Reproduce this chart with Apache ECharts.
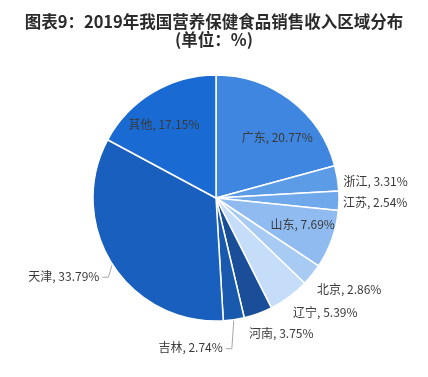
<!DOCTYPE html>
<html><head><meta charset="utf-8">
<script src="https://cdn.jsdelivr.net/npm/echarts@6/dist/echarts.min.js"></script>
<style>html,body{margin:0;padding:0;background:#fff}#c{width:428px;height:377px}</style>
</head><body><div id="c"></div>
<script>
const regions = ['广东','浙江','江苏','山东','北京','辽宁','河南','吉林','天津','其他'];
const shares = [20.77, 3.31, 2.54, 7.69, 2.86, 5.39, 3.75, 2.74, 33.79, 17.15];
const colors = ['#3F86E0','#5C9BE6','#70A9EB','#8FBBF0','#A8CBF4','#C5DDF9','#1A4E98','#1A5AAE','#1960BE','#1A6AD4'];
const labelPos = ['inside','outside','outside','inside','outside','outside','outside','outside','outside','inside'];
const labelShift = [[22,-9],[1,3],[-1,2],[26,5],[0,15],[-1,16],[-14,20],[0,0],[0,0],[-19,-18]];
const guided = {'吉林':[[-2,29],[-8,29]], '天津':[[-4,13],[-10,13]]};

const chart = echarts.init(document.getElementById('c'));
chart.setOption({
  animation:false,
  title:{text:'图表9：2019年我国营养保健食品销售收入区域分布\n(单位：%)',left:'center',top:8,
    textStyle:{fontFamily:'Noto Sans CJK SC',fontSize:16.5,fontWeight:'bold',color:'#2b2b2b',lineHeight:18}},
  series:[{
    type:'pie', radius:123, center:[216,198], startAngle:90, clockwise:true,
    avoidLabelOverlap:false,
    itemStyle:{borderColor:'#fff',borderWidth:1.5},
    label:{formatter:'{b}, {c}%',fontFamily:'Noto Sans CJK SC',fontSize:12,color:'#3a3a3a',distanceToLabelLine:5},
    labelLine:{show:false,length:0,length2:0,lineStyle:{color:'#a6a6a6',width:1}},
    data: regions.map((n,i)=>({
      name:n, value:shares[i],
      itemStyle:{color:colors[i]},
      label:{position:labelPos[i]},
      labelLine:{show: !!guided[n]}
    })),
    labelLayout: function(p){
      const i = p.dataIndex, n = regions[i];
      if (guided[n] && p.labelLinePoints) {
        const p0 = p.labelLinePoints[0];
        const g = guided[n];
        const p1 = [p0[0]+g[0][0], p0[1]+g[0][1]];
        const p2 = [p0[0]+g[1][0], p0[1]+g[1][1]];
        return {labelLinePoints:[p0,p1,p2], x:p2[0]-3, y:p2[1]-1, align:'right', verticalAlign:'middle'};
      }
      return {dx:labelShift[i][0], dy:labelShift[i][1]};
    }
  }]
});
</script></body></html>
